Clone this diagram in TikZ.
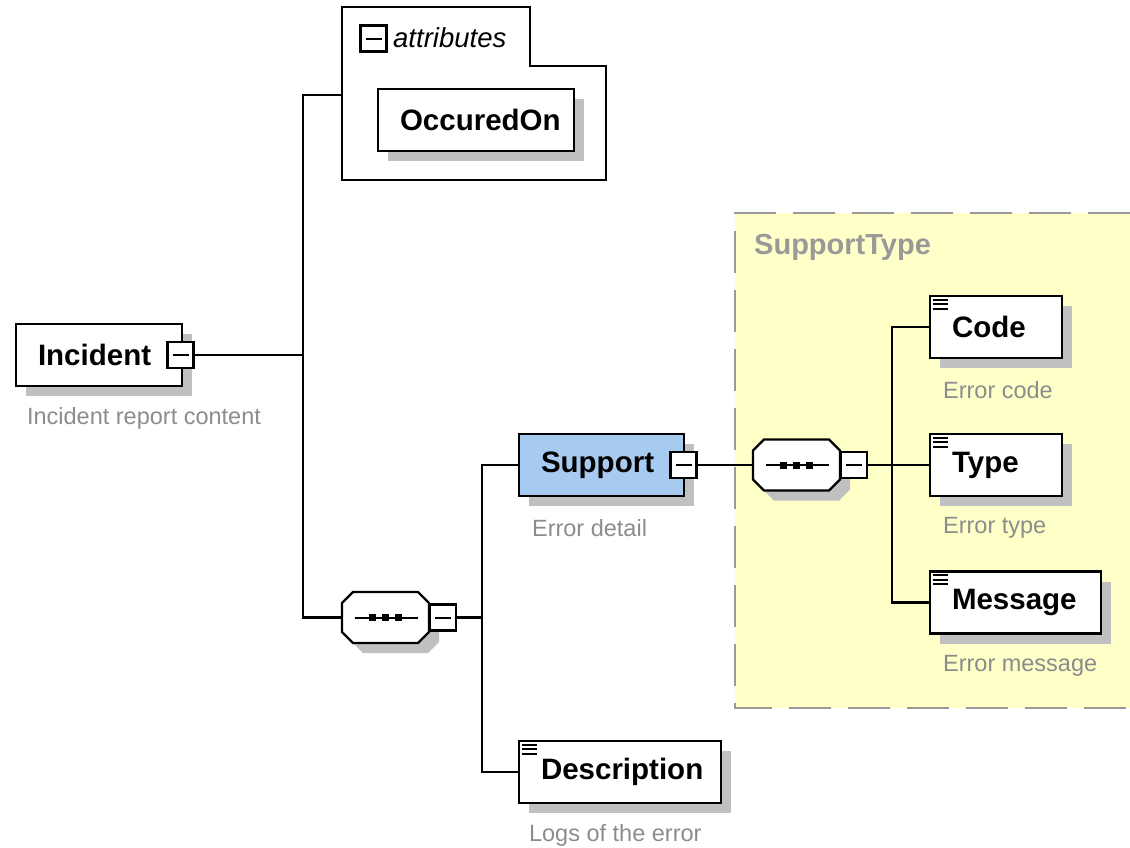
\documentclass[tikz,border=0pt]{standalone}
\usepackage{fontspec}
\setmainfont{Liberation Sans}
\usepackage{xcolor}
\usetikzlibrary{shadows}

\definecolor{shadowgray}{HTML}{C0C0C0}
\definecolor{docgray}{HTML}{8C8C8C}
\definecolor{dashgray}{HTML}{999999}
\definecolor{supblue}{HTML}{A6CAF0}
\definecolor{typeyellow}{HTML}{FFFFC8}

\begin{document}
\begin{tikzpicture}[x=1pt,y=-1pt,
    conn/.style={line width=2.2pt},
    elem/.style={draw, line width=2.2pt, fill=white, minimum height=62pt,
      inner xsep=22pt, text width=#1, align=left,
      font=\fontsize{29.5}{33}\selectfont\bfseries,
      drop shadow={shadow xshift=10pt, shadow yshift=-10pt, fill=shadowgray, opacity=1}},
    minus/.style={draw, line width=2.2pt, fill=white, minimum size=26pt, inner sep=0pt,
      path picture={\draw[line width=2pt] ([xshift=5pt]path picture bounding box.west)
        -- ([xshift=-5pt]path picture bounding box.east);}},
    seq/.style={minimum width=87pt, minimum height=51pt, inner sep=0pt},
    doc/.style={text=docgray, font=\fontsize{23.5}{27}\selectfont, anchor=west, inner sep=0pt}]
    \pgfmathsetmacro{\seqHalfW}{43.5}
    \pgfmathsetmacro{\seqHalfH}{25.5}
    \pgfmathsetmacro{\seqCut}{11}
    \useasboundingbox (0,0) rectangle (1130,847);

    % SupportType
    \fill[typeyellow] (735,213) rectangle (1130,708);
    \draw[dashgray, line width=2.5pt, dash pattern=on 42pt off 17pt]
      (1130,213) -- (735,213) -- (735,708) -- (1130,708);
    \node[anchor=west, inner sep=0pt, text=dashgray, font=\fontsize{29}{33}\selectfont\bfseries]
      (stype) at (754,247) {SupportType};

    % attributes
    \draw[line width=2.2pt, fill=white] (342,7) -- (530,7) -- (530,66) -- (606,66)
      -- (606,180) -- (342,180) -- cycle;
    \coordinate (attin) at (342,95);
    \node[minus] (attm) at (373.5,38.5) {};
    \node[anchor=west, inner sep=0pt, font=\fontsize{27.5}{31}\selectfont\itshape] (attl) at (393,38) {attributes};
    \node[elem=152pt] (occ) at (476,120) {OccuredOn};

    % Incident
    \node[elem=122pt] (inc) at (99,355) {Incident};
    \node[minus] (incm) at (180.5,355) {};
    \node[doc] (incd) at ([shift={(12,31)}]inc.south west) {Incident report content};

    % sequences
    \node[seq] (seqa) at (385.5,617.5) {};
    \node[seq] (seqb) at (796.5,465) {};
    \foreach \s in {seqa,seqb} {
      \fill[shadowgray, shift={(\s.center)}, xshift=10pt, yshift=-10pt]
        (-\seqHalfW,-\seqHalfH+\seqCut) -- (-\seqHalfW+\seqCut,-\seqHalfH) -- (\seqHalfW-\seqCut,-\seqHalfH)
        -- (\seqHalfW,-\seqHalfH+\seqCut) -- (\seqHalfW,\seqHalfH-\seqCut) -- (\seqHalfW-\seqCut,\seqHalfH)
        -- (-\seqHalfW+\seqCut,\seqHalfH) -- (-\seqHalfW,\seqHalfH-\seqCut) -- cycle;
      \draw[line width=2.2pt, fill=white, shift={(\s.center)}]
        (-\seqHalfW,-\seqHalfH+\seqCut) -- (-\seqHalfW+\seqCut,-\seqHalfH) -- (\seqHalfW-\seqCut,-\seqHalfH)
        -- (\seqHalfW,-\seqHalfH+\seqCut) -- (\seqHalfW,\seqHalfH-\seqCut) -- (\seqHalfW-\seqCut,\seqHalfH)
        -- (-\seqHalfW+\seqCut,\seqHalfH) -- (-\seqHalfW,\seqHalfH-\seqCut) -- cycle;
      \draw[line width=2pt] ([xshift=-31pt]\s.center) -- ([xshift=32pt]\s.center);
      \foreach \dx in {-13,0,13}
        \fill ([xshift=\dx pt]\s.center) +(-3.5,-3.5) rectangle +(3.5,3.5);
    }
    \node[minus] (seqam) at (443,617.5) {};
    \node[minus] (seqbm) at (854,465) {};

    % Support
    \node[elem=121pt, fill=supblue] (sup) at (601.5,465) {Support};
    \node[minus] (supm) at (683.5,465) {};
    \node[doc] (supd) at ([shift={(14,31)}]sup.south west) {Error detail};

    % Description
    \node[elem=158pt] (desc) at (620,772) {Description};
    \node[doc] (descd) at ([shift={(11,31)}]desc.south west) {Logs of the error};

    % Code, Type, Message
    \node[elem=88pt] (code) at (996,327) {Code};
    \node[doc] (coded) at ([shift={(14,31)}]code.south west) {Error code};
    \node[elem=88pt] (type) at (996,465) {Type};
    \node[doc] (typed) at ([shift={(14,31)}]type.south west) {Error type};
    \node[elem=127pt] (msg) at (1015.5,602.5) {Message};
    \node[doc] (msgd) at ([shift={(14,31)}]msg.south west) {Error message};

    % icons
    \foreach \n in {code,type,msg,desc}
      \foreach \dy in {5,9.5,14}
        \draw[line width=2pt] ([shift={(4,\dy)}]\n.north west) -- ++(15,0);

    % connectors
    \coordinate (j1) at (303,355);
    \coordinate (j2) at (482,617.5);
    \coordinate (j3) at (892,465);
    \draw[conn] (incm.east) -- (j1);
    \draw[conn] (attin) -| (j1) |- (seqa.west);
    \draw[conn] (seqam.east) -- (j2);
    \draw[conn] (sup.west) -| (j2) |- (desc.west);
    \draw[conn] (supm.east) -- (seqb.west);
    \draw[conn] (seqbm.east) -- (j3);
    \draw[conn] (code.west) -| (j3) |- (msg.west);
    \draw[conn] (j3) -- (type.west);
\end{tikzpicture}
\end{document}
